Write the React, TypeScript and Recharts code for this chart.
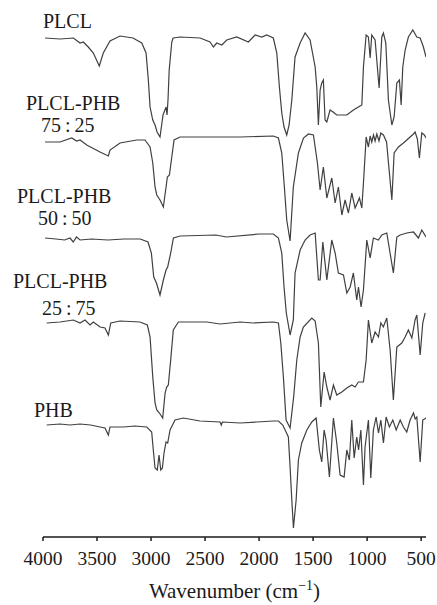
import React from 'react'
import { Label, Line, LineChart, XAxis, YAxis } from 'recharts'

// wavenumber (cm-1), relative transmittance (stacked, arbitrary units)
const plcl: [number, number][] = [
  [3981, 499], [3843, 498], [3719, 499], [3657, 494], [3627, 495], [3581, 490], [3534, 484],
  [3479, 471], [3442, 484], [3380, 496], [3287, 501], [3167, 499], [3086, 494], [3046, 484],
  [3025, 457], [3009, 430], [2984, 417], [2963, 412], [2944, 405], [2917, 400], [2889, 422],
  [2861, 430], [2852, 422], [2843, 437], [2832, 467], [2808, 495], [2796, 499], [2731, 500],
  [2546, 499], [2454, 495], [2423, 490], [2392, 494], [2345, 492], [2299, 497], [2207, 500],
  [2099, 495], [2037, 502], [1975, 500], [1929, 502], [1868, 499], [1836, 484], [1812, 450],
  [1790, 424], [1769, 410], [1744, 402], [1722, 412], [1697, 437], [1667, 480], [1620, 494],
  [1574, 504], [1528, 497], [1481, 470], [1466, 450], [1451, 412], [1435, 447], [1420, 454],
  [1405, 457], [1389, 417], [1373, 415], [1343, 427], [1315, 425], [1281, 422], [1188, 422],
  [1127, 427], [1081, 430], [1049, 432], [1034, 470], [1009, 502], [988, 500], [972, 479],
  [957, 502], [926, 497], [889, 449], [864, 500], [849, 504], [827, 494], [803, 437],
  [771, 412], [750, 420], [725, 454], [701, 457], [685, 432], [670, 470], [648, 487],
  [618, 500], [577, 507], [540, 500], [509, 499], [479, 490], [455, 480],
]

const blend7525: [number, number][] = [
  [3981, 395], [3843, 395], [3734, 399], [3688, 396], [3657, 397], [3595, 392], [3472, 385],
  [3395, 381], [3380, 387], [3287, 394], [3133, 397], [3056, 397], [3009, 390], [2984, 374],
  [2963, 350], [2947, 342], [2917, 337], [2886, 330], [2861, 350], [2849, 360], [2830, 362],
  [2808, 380], [2787, 397], [2731, 400], [2488, 400], [2176, 400], [1868, 401], [1821, 399],
  [1790, 384], [1766, 350], [1744, 317], [1713, 296], [1683, 350], [1636, 384], [1589, 399],
  [1543, 403], [1497, 402], [1460, 374], [1435, 347], [1405, 370], [1373, 339], [1327, 359],
  [1296, 334], [1266, 350], [1234, 322], [1204, 337], [1173, 324], [1142, 344], [1111, 329],
  [1071, 339], [1049, 329], [1034, 354], [1009, 400], [988, 390], [972, 401], [957, 395],
  [941, 402], [926, 396], [910, 403], [890, 396], [873, 404], [849, 402], [820, 395],
  [771, 337], [750, 384], [710, 390], [664, 394], [633, 397], [602, 400], [571, 403],
  [556, 405], [535, 398], [516, 379], [494, 404], [470, 402], [455, 399],
]

const blend5050: [number, number][] = [
  [3981, 299], [3880, 298], [3800, 297], [3750, 299], [3720, 295], [3690, 300], [3657, 297],
  [3550, 298], [3400, 297], [3250, 298], [3100, 298], [3028, 295], [2997, 284], [2975, 260],
  [2950, 254], [2917, 242], [2886, 257], [2861, 267], [2846, 270], [2818, 284], [2793, 299],
  [2731, 301], [2400, 302], [2300, 300], [2000, 303], [1868, 303], [1821, 299], [1790, 284],
  [1769, 250], [1748, 224], [1713, 202], [1683, 217], [1667, 264], [1620, 287], [1574, 297],
  [1528, 302], [1481, 304], [1451, 257], [1435, 257], [1410, 295], [1373, 257], [1327, 297],
  [1296, 284], [1266, 264], [1219, 262], [1188, 244], [1157, 250], [1127, 264], [1096, 237],
  [1080, 250], [1056, 230], [1034, 247], [1003, 297], [972, 279], [942, 299], [896, 297],
  [864, 302], [818, 304], [757, 264], [725, 300], [694, 302], [633, 304], [571, 305],
  [525, 299], [494, 307], [455, 300],
]

const blend2575: [number, number][] = [
  [3966, 214], [3843, 215], [3719, 217], [3657, 214], [3611, 217], [3565, 212], [3534, 215],
  [3472, 210], [3426, 209], [3395, 202], [3373, 214], [3287, 216], [3102, 215], [3034, 212],
  [3009, 200], [2984, 160], [2963, 134], [2947, 127], [2923, 124], [2892, 119], [2870, 144],
  [2855, 150], [2840, 152], [2818, 177], [2794, 207], [2747, 215], [2484, 215], [2361, 213],
  [2176, 215], [2053, 214], [1868, 215], [1821, 214], [1799, 194], [1775, 160], [1750, 117],
  [1713, 109], [1680, 140], [1651, 177], [1620, 200], [1590, 210], [1512, 219], [1481, 216],
  [1451, 194], [1429, 130], [1398, 165], [1373, 150], [1343, 137], [1312, 152], [1281, 142],
  [1234, 145], [1188, 149], [1142, 152], [1111, 150], [1081, 155], [1034, 155], [1009, 177],
  [988, 217], [957, 194], [926, 205], [895, 200], [873, 214], [850, 210], [818, 219],
  [787, 187], [757, 137], [725, 190], [679, 194], [648, 200], [618, 207], [586, 199],
  [556, 217], [540, 222], [509, 182], [485, 214], [463, 224],
]

const phb: [number, number][] = [
  [3966, 112], [3843, 113], [3750, 112], [3657, 113], [3560, 112], [3472, 110], [3426, 109],
  [3395, 102], [3380, 110], [3256, 110], [3150, 111], [3040, 110], [2994, 105], [2979, 87],
  [2963, 69], [2942, 67], [2926, 82], [2910, 67], [2895, 69], [2880, 84], [2861, 95],
  [2846, 94], [2824, 107], [2778, 117], [2701, 119], [2546, 116], [2361, 115], [2350, 112],
  [2340, 115], [2176, 114], [2021, 115], [1868, 116], [1821, 116], [1781, 112], [1759, 107],
  [1729, 100], [1713, 70], [1697, 37], [1682, 9], [1657, 37], [1636, 77], [1605, 94],
  [1558, 107], [1512, 115], [1472, 119], [1442, 87], [1420, 75], [1398, 107], [1380, 97],
  [1349, 60], [1312, 119], [1281, 94], [1250, 62], [1213, 60], [1188, 87], [1164, 77],
  [1142, 117], [1120, 79], [1096, 100], [1079, 87], [1058, 107], [1034, 52], [1019, 90],
  [988, 117], [966, 59], [942, 107], [917, 120], [895, 104], [873, 117], [849, 94],
  [824, 120], [794, 110], [762, 117], [731, 107], [694, 117], [664, 110], [633, 105],
  [602, 117], [571, 124], [555, 118], [540, 120], [509, 75], [485, 117], [455, 119],
]

const xTicks = [4000, 3500, 3000, 2500, 2000, 1500, 1000, 500]

const series = [
  { name: 'PLCL', points: plcl },
  { name: 'PLCL-PHB 75:25', points: blend7525 },
  { name: 'PLCL-PHB 50:50', points: blend5050 },
  { name: 'PLCL-PHB 25:75', points: blend2575 },
  { name: 'PHB', points: phb },
]

const SERIF = '"Liberation Serif", "Times New Roman", Tinos'
const INK = '#1a1a1a'
const LINE = '#404040'

const toRows = (pts: [number, number][]) => pts.map(([w, v]) => ({ w, v }))

const AxisTitle = (props: any) => {
  const { x, y, width } = props.viewBox
  return (
    <text x={x + width / 2} y={y + 61} textAnchor="middle" fontSize={21} fill={INK} style={{ fontFamily: SERIF }}>
      Wavenumber (cm
      <tspan dy={-8} fontSize={14}>−1</tspan>
      <tspan dy={8}>)</tspan>
    </text>
  )
}

// sample labels: left edge and baseline in page pixels
const sampleLabels = [
  { text: 'PLCL', left: 43, base: 28 },
  { text: 'PLCL-PHB', left: 26, base: 110 },
  { text: '75\u2009:\u200925', left: 41, base: 132 },
  { text: 'PLCL-PHB', left: 17, base: 202.5 },
  { text: '50\u2009:\u200950', left: 38, base: 225 },
  { text: 'PLCL-PHB', left: 13, base: 288 },
  { text: '25\u2009:\u200975', left: 42, base: 315 },
  { text: 'PHB', left: 34, base: 417 },
]

export default function App() {
  return (
    <div style={{ position: 'absolute', left: 0, top: 0, width: 437, height: 605, background: '#fff', fontFamily: SERIF }}>
      <LineChart
        width={437}
        height={605}
        data={toRows(plcl)}
        margin={{ top: 17, right: 11, bottom: 8, left: 43 }}
        style={{ fontFamily: SERIF }}
      >
        <XAxis
          dataKey="w"
          type="number"
          domain={[455, 4000]}
          reversed
          allowDataOverflow
          ticks={xTicks}
          interval={0}
          height={60}
          tickSize={4}
          tickMargin={10}
          tick={{ fill: INK, fontSize: 19.5, style: { fontFamily: SERIF } }}
          tickLine={{ stroke: INK, strokeWidth: 1.5 }}
          axisLine={{ stroke: INK, strokeWidth: 1.6 }}
        >
          <Label content={AxisTitle} />
        </XAxis>
        <YAxis type="number" domain={[0, 520]} hide />
        {series.map((s) => (
          <Line
            key={s.name}
            data={toRows(s.points)}
            dataKey="v"
            name={s.name}
            type="linear"
            stroke={LINE}
            strokeWidth={1.2}
            dot={false}
            isAnimationActive={false}
          />
        ))}
      </LineChart>
      {sampleLabels.map((l, i) => (
        <div
          key={i}
          style={{
            position: 'absolute',
            left: l.left,
            top: l.base - 18,
            fontFamily: SERIF,
            fontSize: 20,
            lineHeight: '23px',
            color: INK,
            whiteSpace: 'nowrap',
          }}
        >
          {l.text}
        </div>
      ))}
    </div>
  )
}
